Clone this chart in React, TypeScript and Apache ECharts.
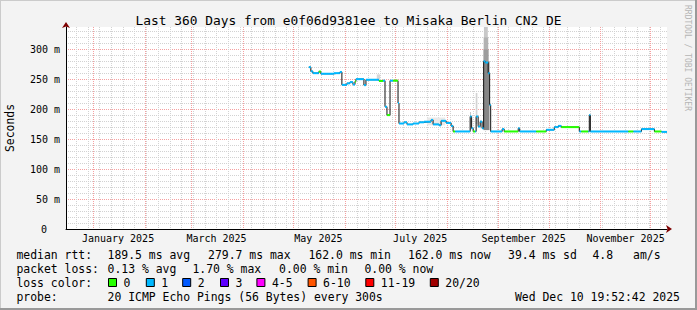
import React, { useEffect, useRef } from "react";
import * as echarts from "echarts";

// ---------- data ----------
const rangeStartUTC = [2024, 11, 15, 19, 52, 42];
const rangeEndUTC = [2025, 11, 10, 19, 52, 42];

// median RTT change points (2025, "MM-DD HH" UTC), value in ms, packets lost (of 20)
const medianTimes = [
  "05-10 07", "05-11 12", "05-12 17", "05-16 07", "05-17 12", "05-25 07", "05-28 22", "05-30 02",
  "06-02 02", "06-03 22", "06-05 17", "06-06 22", "06-07 12", "06-12 07", "06-13 12", "06-21 07",
  "06-23 17", "06-24 22", "06-26 02", "06-27 22", "06-29 17", "07-02 17", "07-03 07", "07-06 07",
  "07-08 02", "07-11 17", "07-15 07", "07-18 07", "07-22 12", "07-23 17", "07-27 07", "07-28 12",
  "07-31 12", "08-03 12", "08-04 17", "08-05 22", "08-14 22", "08-15 19", "08-16 17", "08-17 22",
  "08-18 12", "08-19 17", "08-20 22", "08-22 02", "08-23 00", "08-23 22", "08-25 17", "08-26 14",
  "08-27 05", "09-03 02", "09-04 07", "09-12 17", "09-13 14", "09-23 12", "09-29 12", "10-04 07",
  "10-06 17", "10-08 12", "10-19 07", "10-20 12", "10-24 17", "10-25 07", "10-25 22", "11-17 17",
  "11-20 17", "11-25 12", "12-03 07", "12-07 12", "12-10 19",
];
const medianValues = [
  270, 263, 260, 262.7, 259, 260, 262, 240.5,
  243, 245, 241, 246, 250, 240, 249, 247,
  247.5, 204, 190, 247.5, 247.5, 210, 176, 178,
  174.5, 176, 178, 179, 182, 174.5, 173, 180.5,
  177, 172, 162.7, 162.7, 187.7, 168, 162.7, 162.7,
  187.7, 171, 179, 168, 279.7, 277.7, 260, 207,
  162.7, 166.7, 162.7, 168, 162.7, 162.7, 165.5, 170,
  172, 170, 162.7, 162.7, 162.7, 190, 162.7, 162.7,
  162.7, 166.7, 162.7, 162, 162,
];
const medianLoss = [
  1, 1, 1, 0, 1, 1, 1, 1,
  1, 1, 1, 0, 1, 1, 1, 0,
  1, 1, 0, 1, 0, 1, 1, 1,
  1, 1, 1, 1, 1, 1, 1, 1,
  1, 1, 0, 1, 1, 1, 0, 1,
  1, 1, 1, 1, 1, 1, 1, 1,
  1, 1, 0, 1, 1, 0, 1, 1,
  1, 0, 1, 0, 1, 1, 1, 0,
  1, 1, 0, 1, 1,
];

// smoke (spread of the 20 pings): start, end, low ms, high ms, density 0..1
const smokeStart = ["08-22 20", "08-22 20", "08-23 00", "08-23 04", "08-18 06", "08-14 20", "08-20 18", "07-20 00", "06-20 00"];
const smokeEnd = ["08-26 12", "08-26 00", "08-25 18", "08-25 12", "08-19 06", "08-15 08", "08-21 18", "07-31 00", "06-22 00"];
const smokeLow = [165, 280, 300, 320, 175, 165, 168, 173, 250];
const smokeHigh = [280, 300, 320, 400, 227, 195, 182, 186, 258];
const smokeDensity = [0.55, 0.45, 0.35, 0.25, 0.2, 0.3, 0.2, 0.1, 0.18];

const yMinorTicks = [0, 10, 20, 30, 40, 50, 60, 70, 80, 90, 100, 110, 120, 130, 140, 150, 160, 170, 180, 190, 200, 210, 220, 230, 240, 250, 260, 270, 280, 290, 300, 310, 320, 330];
const yMajorTicks = [0, 50, 100, 150, 200, 250, 300];
const monthStarts = ["2025-01-01", "2025-02-01", "2025-03-01", "2025-04-01", "2025-05-01", "2025-06-01", "2025-07-01", "2025-08-01", "2025-09-01", "2025-10-01", "2025-11-01", "2025-12-01"];
const monthLabelDays = ["2025-01-16", "2025-03-16", "2025-05-16", "2025-07-16", "2025-09-16", "2025-11-16"];
const firstWeekLine = "2024-12-22";
const monthNames = ["January", "February", "March", "April", "May", "June", "July", "August", "September", "October", "November", "December"];

const titleText = "Last 360 Days from e0f06d9381ee to Misaka Berlin CN2 DE";
const rttRow = [["median rtt:", 16.4], ["189.5 ms avg", 107.6], ["279.7 ms max", 208], ["162.0 ms min", 308.4], ["162.0 ms now", 408], ["39.4 ms sd", 508], ["4.8", 592.4], ["am/s", 633]];
const lossRow = [["packet loss:", 16.4], ["0.13 % avg", 107.6], ["1.70 % max", 192.4], ["0.00 % min", 279], ["0.00 % now", 364.4]];
const lossLabels = ["0", "1", "2", "3", "4-5", "6-10", "11-19", "20/20"];
const lossColors = ["#26ff00", "#00b8ff", "#0059ff", "#5e00ff", "#ff00ff", "#ff5500", "#ff0000", "#a10000"];
const lossBoxX = [108, 145.8, 182.2, 220, 256.4, 307.6, 365.3, 429.8];
const probeText = "20 ICMP Echo Pings (56 Bytes) every 300s";
const dateText = "Wed Dec 10 19:52:42 2025";

// ---------- helpers ----------
const MONO = "'DejaVu Sans Mono', monospace";
const utc = (a: number[]) => Date.UTC(a[0], a[1], a[2], a[3], a[4], a[5]);
const t25 = (s: string) => {
  const [md, h] = s.split(" ");
  const [m, d] = md.split("-").map(Number);
  return Date.UTC(2025, m - 1, d, Number(h));
};
const tDay = (s: string) => {
  const [y, m, d] = s.split("-").map(Number);
  return Date.UTC(y, m - 1, d);
};

export default function App() {
  const ref = useRef<HTMLDivElement>(null);
  useEffect(() => {
    if (!ref.current) return;
    const chart = echarts.init(ref.current, undefined, { renderer: "svg", width: 697, height: 310 });
    const xMin = utc(rangeStartUTC);
    const xMax = utc(rangeEndUTC);
    const yMax = 337;

    const weekTicks: number[] = [];
    for (let t = tDay(firstWeekLine); t < xMax; t += 7 * 86400000) weekTicks.push(t);
    const monthTicks = monthStarts.map(tDay);
    const labelTicks = monthLabelDays.map(tDay);

    const times = medianTimes.map(t25);
    const segs: number[][] = [];
    for (let i = 0; i < times.length - 1; i++) segs.push([times[i], times[i + 1], medianValues[i], medianLoss[i]]);
    const stepData = times.map((t, i) => [t, medianValues[i]]);
    const smokeData = smokeStart.map((s, i) => [t25(s), t25(smokeEnd[i]), smokeLow[i], Math.min(smokeHigh[i], yMax), smokeDensity[i]]);

    const gridLeft = 66, gridRight = 667, gridTop = 27, gridBottom = 229;
    const baseX = {
      type: "value", min: xMin, max: xMax, position: "bottom",
      axisLabel: { show: false }, axisLine: { show: false },
    };
    const baseY = { type: "value", min: 0, max: yMax, position: "left", axisLabel: { show: false }, axisLine: { show: false } };

    const graphic: any[] = [];
    graphic.push({ type: "rect", shape: { x: 0, y: 0, width: 697, height: 310 }, style: { fill: "#f3f3f3" }, z: -10, silent: true });
    graphic.push({ type: "line", shape: { x1: 0, y1: 0.5, x2: 697, y2: 0.5 }, style: { stroke: "#cbcbcb", lineWidth: 1 } });
    graphic.push({ type: "line", shape: { x1: 0.5, y1: 0, x2: 0.5, y2: 310 }, style: { stroke: "#cbcbcb", lineWidth: 1 } });
    graphic.push({ type: "line", shape: { x1: 0, y1: 309, x2: 697, y2: 309 }, style: { stroke: "#999999", lineWidth: 2 } });
    graphic.push({ type: "line", shape: { x1: 696, y1: 0, x2: 696, y2: 310 }, style: { stroke: "#999999", lineWidth: 2 } });
    const txt = (text: string, x: number, y: number, size: number, extra: any = {}) => ({
      type: "text", x, y, ...extra,
      style: { text, font: `${size}px ${MONO}`, fill: extra.fill || "#000", align: extra.align || "left", textAlign: extra.align || "left", verticalAlign: "middle", textVerticalAlign: "middle" },
    });
    graphic.push(txt(titleText, 348.5, 20, 12.86, { align: "center" }));
    graphic.push({ ...txt("Seconds", 10, 128, 11.43, { align: "center" }), rotation: Math.PI / 2 });
    graphic.push({ type: "text", x: 687, y: 5, rotation: -Math.PI / 2, style: { text: "RRDTOOL / TOBI OETIKER", font: `8px ${MONO}`, fill: "#b5b5b5", align: "left", textAlign: "left", verticalAlign: "middle", textVerticalAlign: "middle" } });
    const rowY = [255, 269, 283, 297];
    rttRow.forEach(([s, x]) => graphic.push(txt(s as string, x as number, rowY[0], 11.43)));
    lossRow.forEach(([s, x]) => graphic.push(txt(s as string, x as number, rowY[1], 11.43)));
    graphic.push(txt("loss color:", 16.4, rowY[2], 11.43));
    lossLabels.forEach((l, i) => {
      graphic.push({ type: "rect", shape: { x: lossBoxX[i] + 0.5, y: rowY[2] - 4.5, width: 8, height: 8 }, style: { fill: lossColors[i], stroke: "#000", lineWidth: 1 } });
      graphic.push(txt(l, lossBoxX[i] + 15.5, rowY[2], 11.43));
    });
    graphic.push(txt("probe:", 16.4, rowY[3], 11.43));
    graphic.push(txt(probeText, 107.6, rowY[3], 11.43));
    graphic.push(txt(dateText, 680, rowY[3], 11.43, { align: "right" }));

    const option: any = {
      animation: false,
      backgroundColor: "#f3f3f3",
      grid: {
        left: gridLeft, top: gridTop, width: gridRight - gridLeft, height: gridBottom - gridTop,
        show: true, backgroundColor: "#ffffff", borderWidth: 0,
      },
      xAxis: [
        { ...baseX, axisTick: { show: false, customValues: weekTicks },
          splitLine: { show: true, lineStyle: { color: "#d2d2d2", type: [1, 1], width: 1 } },
          axisLine: { show: true, symbol: ["none", "arrow"], symbolSize: [6, 6], symbolOffset: [0, 5], lineStyle: { color: "#7f0000", width: 0 } } },
        { ...baseX, axisTick: { show: false, customValues: monthTicks },
          splitLine: { show: true, lineStyle: { color: "#f5a0a0", type: [1, 1], width: 1 } } },
        { ...baseX, axisTick: { show: false, customValues: labelTicks },
          axisLine: { show: true, onZero: false, lineStyle: { color: "#000", width: 1 } },
          splitLine: { show: false },
          axisLabel: { show: true, customValues: labelTicks, margin: 4, color: "#000", fontFamily: MONO, fontSize: 10,
            formatter: (v: number) => { const d = new Date(v); return monthNames[d.getUTCMonth()] + " " + d.getUTCFullYear(); } } },
      ],
      yAxis: [
        { ...baseY, axisTick: { show: false, customValues: yMinorTicks },
          splitLine: { show: true, lineStyle: { color: "#d2d2d2", type: [1, 1], width: 1 } },
          axisLine: { show: true, symbol: ["none", "arrow"], symbolSize: [6, 6], symbolOffset: [0, 5], lineStyle: { color: "#7f0000", width: 0 } } },
        { ...baseY, axisTick: { show: false, customValues: yMajorTicks },
          splitLine: { show: true, lineStyle: { color: "#f5a0a0", type: [1, 1], width: 1 } },
          axisLine: { show: true, onZero: false, lineStyle: { color: "#000", width: 1 } },
          axisLabel: { show: true, customValues: yMajorTicks, margin: 6, color: "#000", fontFamily: MONO, fontSize: 10,
            formatter: (v: number) => (v === 0 ? "{z|0}" : v + " m"),
            rich: { z: { padding: [0, 13, 0, 0], fontFamily: MONO, fontSize: 10, color: "#000" } } } },
      ],
      series: [
        {
          type: "custom", name: "smoke", xAxisIndex: 2, yAxisIndex: 1, z: 2,
          encode: { x: [0, 1], y: [2, 3] },
          data: smokeData,
          renderItem: (_p: any, api: any) => {
            const a = api.coord([api.value(0), api.value(3)]);
            const b = api.coord([api.value(1), api.value(2)]);
            const g = Math.round(255 - api.value(4) * 220);
            return { type: "rect", shape: { x: a[0], y: a[1], width: b[0] - a[0], height: b[1] - a[1] }, style: { fill: `rgb(${g},${g},${g})` } };
          },
        },
        {
          type: "line", name: "median step", xAxisIndex: 2, yAxisIndex: 1, z: 3,
          data: stepData, step: "end", symbol: "none",
          lineStyle: { color: "#111", width: 1 },
        },
        {
          type: "custom", name: "median", xAxisIndex: 2, yAxisIndex: 1, z: 4,
          encode: { x: [0, 1], y: 2 },
          data: segs,
          renderItem: (_p: any, api: any) => {
            const v = api.value(2);
            const a = api.coord([api.value(0), v]);
            const b = api.coord([api.value(1), v]);
            return { type: "line", shape: { x1: a[0], y1: a[1], x2: b[0], y2: b[1] }, style: { stroke: lossColors[api.value(3)], lineWidth: 2 } };
          },
        },
      ],
      graphic,
    };
    chart.setOption(option);
    return () => chart.dispose();
  }, []);
  return <div ref={ref} style={{ position: "absolute", left: 0, top: 0, width: 697, height: 310 }} />;
}
